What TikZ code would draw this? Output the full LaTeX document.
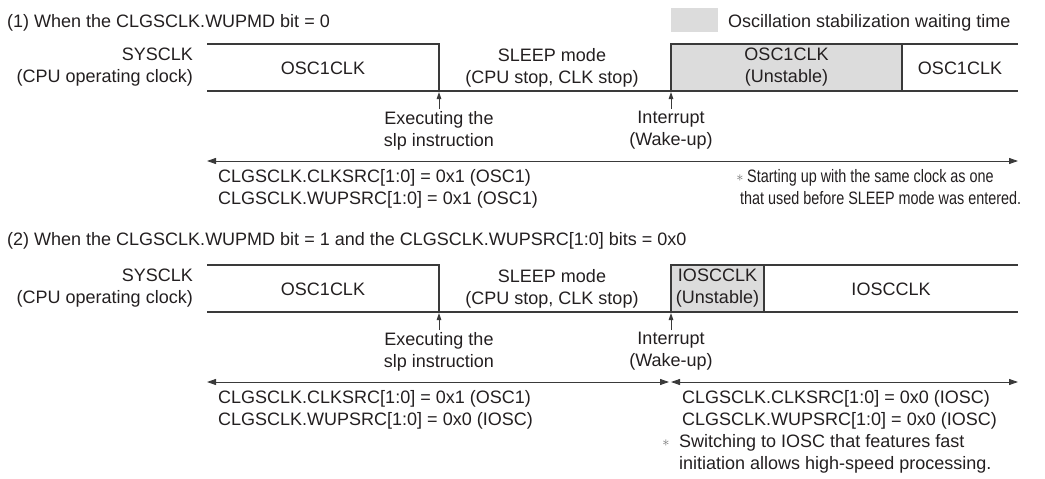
\documentclass[tikz,border=0pt]{standalone}
\usepackage{fontspec}
\usepackage{graphicx}
\setmainfont{Liberation Sans}
\usetikzlibrary{arrows.meta}
\definecolor{ink}{HTML}{231F20}
\definecolor{linec}{HTML}{3A3A3A}
\definecolor{waitgray}{HTML}{DCDCDC}
\definecolor{astgray}{HTML}{707070}
\tikzset{
  txt/.style={font=\fontsize{18}{22}\selectfont, text=ink, inner sep=0pt, execute at begin node=\strut},
  tline/.style={draw=linec, line width=1.2pt},
  uparrow/.style={draw=linec, line width=0.9pt, -{Triangle[length=7pt,width=4.5pt]}},
  span/.style={draw=linec, line width=0.9pt, {Triangle[length=9pt,width=6pt]}-{Triangle[length=9pt,width=6pt]}},
  astx/.style={font=\fontsize{14}{14}\selectfont, text=astgray, inner sep=0pt}
}
\newcommand{\condensed}[1]{\scalebox{0.8}[1]{#1}}
\begin{document}
\begin{tikzpicture}[x=1pt,y=-1pt]
\useasboundingbox (0,0) rectangle (1045,479);

% ---------------- Section 1 ----------------
\node[txt, anchor=north west] (title1) at (7,11.6) {(1) When the CLGSCLK.WUPMD bit = 0};
\fill[waitgray] (671,8) rectangle (718,32);
\node[txt, anchor=north west] (legend) at (728,11.6) {Oscillation stabilization waiting time};

\fill[waitgray] (671,44) rectangle (902,91);
\draw[tline] (207,44) -- (439,44) -- (439,91);
\draw[tline] (207,91) -- (1018,91);
\draw[tline] (671,91) -- (671,44) -- (1018,44);
\draw[tline] (902,44) -- (902,91);

\node[txt, anchor=north east, align=right] (sys1) at (193,48.1) {SYSCLK\\(CPU operating clock)};
\node[txt, anchor=north] (oscA1) at (323,58.6) {OSC1CLK};
\node[txt, anchor=north, align=center] (sleep1) at (552,48.1) {SLEEP mode\\(CPU stop, CLK stop)};
\node[txt, anchor=north, align=center] (unst1) at (786.5,48.1) {OSC1CLK\\(Unstable)};
\node[txt, anchor=north] (oscB1) at (960,58.6) {OSC1CLK};

\coordinate (slpT1) at (439,92);
\coordinate (slpB1) at (439,109);
\draw[uparrow] (slpB1) -- (slpT1);
\coordinate (wakT1) at (671,92);
\coordinate (wakB1) at (671,109);
\draw[uparrow] (wakB1) -- (wakT1);
\node[txt, anchor=north, align=center] (exec1) at (439,111.1) {Executing the\\slp instruction};
\node[txt, anchor=north, align=center] (intr1) at (671,111.1) {Interrupt\\(Wake-up)};

\coordinate (spL1) at (207,161);
\coordinate (spR1) at (1018,161);
\draw[span] (spL1) -- (spR1);
\node[txt, anchor=north west, align=left] (reg1) at (218,169.1) {CLGSCLK.CLKSRC[1:0] = 0x1 (OSC1)\\CLGSCLK.WUPSRC[1:0] = 0x1 (OSC1)};
\node[astx] (ast1) at (740,178) {$\ast$};
\node[txt, anchor=north west, align=left] (note1) at (740,169.1) {\hspace*{7pt}\condensed{Starting up with the same clock as one}\\\condensed{that used before SLEEP mode was entered.}};

% ---------------- Section 2 ----------------
\node[txt, anchor=north west] (title2) at (7,229.6) {(2) When the CLGSCLK.WUPMD bit = 1 and the CLGSCLK.WUPSRC[1:0] bits = 0x0};

\fill[waitgray] (671,265) rectangle (764,312);
\draw[tline] (207,265) -- (439,265) -- (439,312);
\draw[tline] (207,312) -- (1018,312);
\draw[tline] (671,312) -- (671,265) -- (1018,265);
\draw[tline] (764,265) -- (764,312);

\node[txt, anchor=north east, align=right] (sys2) at (193,269.1) {SYSCLK\\(CPU operating clock)};
\node[txt, anchor=north] (oscA2) at (323,279.6) {OSC1CLK};
\node[txt, anchor=north, align=center] (sleep2) at (552,269.1) {SLEEP mode\\(CPU stop, CLK stop)};
\node[txt, anchor=north, align=center] (unst2) at (717.5,269.1) {IOSCCLK\\(Unstable)};
\node[txt, anchor=north] (iosc2) at (891,279.6) {IOSCCLK};

\coordinate (slpT2) at (439,313);
\coordinate (slpB2) at (439,330);
\draw[uparrow] (slpB2) -- (slpT2);
\coordinate (wakT2) at (671,313);
\coordinate (wakB2) at (671,330);
\draw[uparrow] (wakB2) -- (wakT2);
\node[txt, anchor=north, align=center] (exec2) at (439,332.1) {Executing the\\slp instruction};
\node[txt, anchor=north, align=center] (intr2) at (671,332.1) {Interrupt\\(Wake-up)};

\coordinate (spL2) at (207,382);
\coordinate (spM2a) at (669,382);
\coordinate (spM2b) at (671,382);
\coordinate (spR2) at (1018,382);
\draw[span] (spL2) -- (spM2a);
\draw[span] (spM2b) -- (spR2);
\node[txt, anchor=north west, align=left] (reg2a) at (218,390.1) {CLGSCLK.CLKSRC[1:0] = 0x1 (OSC1)\\CLGSCLK.WUPSRC[1:0] = 0x0 (IOSC)};
\node[txt, anchor=north west, align=left] (reg2b) at (682,390.1) {CLGSCLK.CLKSRC[1:0] = 0x0 (IOSC)\\CLGSCLK.WUPSRC[1:0] = 0x0 (IOSC)};
\node[astx] (ast2) at (666,443) {$\ast$};
\node[txt, anchor=north west, align=left] (note2) at (679,434.1) {Switching to IOSC that features fast\\initiation allows high-speed processing.};
\end{tikzpicture}
\end{document}
